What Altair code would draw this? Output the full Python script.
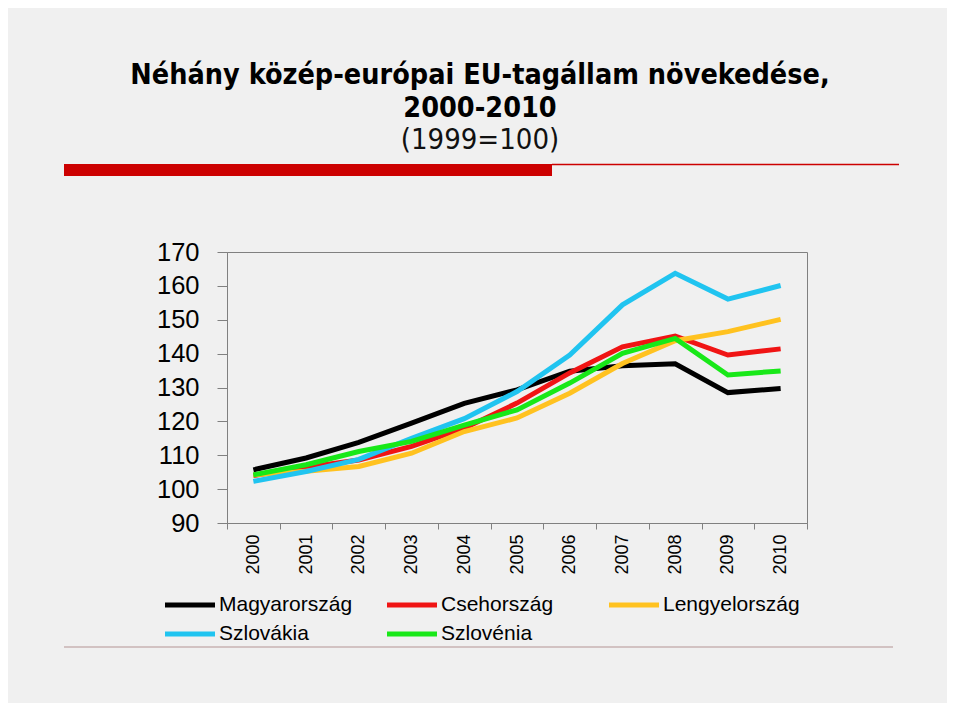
import altair as alt
import pandas as pd

years = ["2000", "2001", "2002", "2003", "2004", "2005", "2006", "2007", "2008", "2009", "2010"]
countries = ["Magyarország", "Csehország", "Lengyelország", "Szlovákia", "Szlovénia"]
colors = ["#000000", "#F01414", "#FFC220", "#20C4F0", "#18E818"]

magyarorszag = [105.7, 109.2, 113.8, 119.5, 125.3, 129.3, 134.8, 136.4, 137.0, 128.5, 129.7]
csehorszag = [104.0, 106.5, 108.6, 112.6, 118.0, 125.4, 134.3, 142.0, 145.2, 139.6, 141.4]
lengyelorszag = [104.2, 105.3, 106.7, 110.6, 117.0, 121.0, 128.3, 137.1, 143.8, 146.5, 150.1]
szlovakia = [102.3, 105.2, 108.8, 115.0, 120.8, 128.8, 139.6, 154.4, 163.7, 156.1, 160.1]
szlovenia = [104.2, 107.2, 111.1, 114.1, 118.9, 123.4, 131.3, 140.1, 144.5, 133.7, 134.9]

title_lines = ["Néhány közép-európai EU-tagállam növekedése,", "2000-2010", "(1999=100)"]

series = [magyarorszag, csehorszag, lengyelorszag, szlovakia, szlovenia]
rows = []
for name, vals in zip(countries, series):
    for y, v in zip(years, vals):
        rows.append({"year": y, "value": v, "country": name, "order": countries.index(name)})
df = pd.DataFrame(rows)

FONT = "Liberation Sans"
TFONT = "DejaVu Sans Condensed"

lines = alt.Chart(df).mark_line(strokeWidth=5, strokeJoin="miter", clip=False).encode(
    x=alt.X(
        "year:O",
        bandPosition=0.5,
        scale=alt.Scale(type="band", paddingInner=0, paddingOuter=0),
        axis=alt.Axis(
            title=None, tickBand="extent", tickSize=6, labelAngle=270, labelAlign="right",
            labelBaseline="middle", labelFontSize=18, labelPadding=5, labelFont=FONT,
            labelColor="#000000", domainColor="#808080", tickColor="#808080", grid=False,
        ),
    ),
    y=alt.Y(
        "value:Q",
        scale=alt.Scale(domain=[90, 170], nice=False, zero=False),
        axis=alt.Axis(
            title=None, values=list(range(90, 171, 10)), tickSize=10, labelPadding=18,
            labelFontSize=25.5, labelFont=FONT, labelColor="#000000", domainColor="#808080",
            tickColor="#808080", grid=False,
        ),
    ),
    color=alt.Color(
        "country:N",
        scale=alt.Scale(domain=countries, range=colors),
        legend=alt.Legend(
            title=None, orient="none", legendX=-52, legendY=338, columns=3, gridAlign="all",
            direction="horizontal",
            symbolType="M-2,0H2", symbolSize=625, symbolStrokeWidth=5, labelFontSize=21,
            labelFont=FONT, labelColor="#000000", labelOffset=14, columnPadding=21, rowPadding=4,
        ),
    ),
    order=alt.Order("order:Q"),
)

one = alt.Data(values=[{"a": 1}])

red_bar = alt.Chart(one).mark_rect(color="#CC0000").encode(
    x=alt.value(-163), x2=alt.value(325), y=alt.value(-88), y2=alt.value(-76)
)
red_thin = alt.Chart(one).mark_rule(color="#CC0000", strokeWidth=1.5).encode(
    x=alt.value(325), x2=alt.value(672), y=alt.value(-87.5)
)
bottom_line = alt.Chart(one).mark_rule(color="#D2C2C2", strokeWidth=2).encode(
    x=alt.value(-163), x2=alt.value(666), y=alt.value(395)
)

tdf = pd.DataFrame({"t": title_lines, "i": [0, 1, 2]})
t1 = alt.Chart(tdf[tdf.i == 0]).mark_text(
    font=TFONT, fontSize=28.5, fontWeight="bold", align="center", baseline="alphabetic", color="#000000"
).encode(text="t:N", x=alt.value(253), y=alt.value(-168))
t2 = alt.Chart(tdf[tdf.i == 1]).mark_text(
    font=TFONT, fontSize=28.5, fontWeight="bold", align="center", baseline="alphabetic", color="#000000"
).encode(text="t:N", x=alt.value(253), y=alt.value(-135))
t3 = alt.Chart(tdf[tdf.i == 2]).mark_text(
    font=TFONT, fontSize=29, fontWeight="normal", align="center", baseline="alphabetic", color="#111111"
).encode(text="t:N", x=alt.value(253), y=alt.value(-103))

chart = alt.layer(red_bar, red_thin, bottom_line, t1, t2, t3, lines).properties(
    width=580,
    height=271,
    autosize=alt.AutoSizeParams(type="none"),
    padding={"left": 219, "top": 244, "right": 140, "bottom": 180},
    background="#F0F0F0",
).configure_view(stroke="#808080", strokeWidth=1)

chart.save("out.html", embed_options={"renderer": "svg", "actions": False})
